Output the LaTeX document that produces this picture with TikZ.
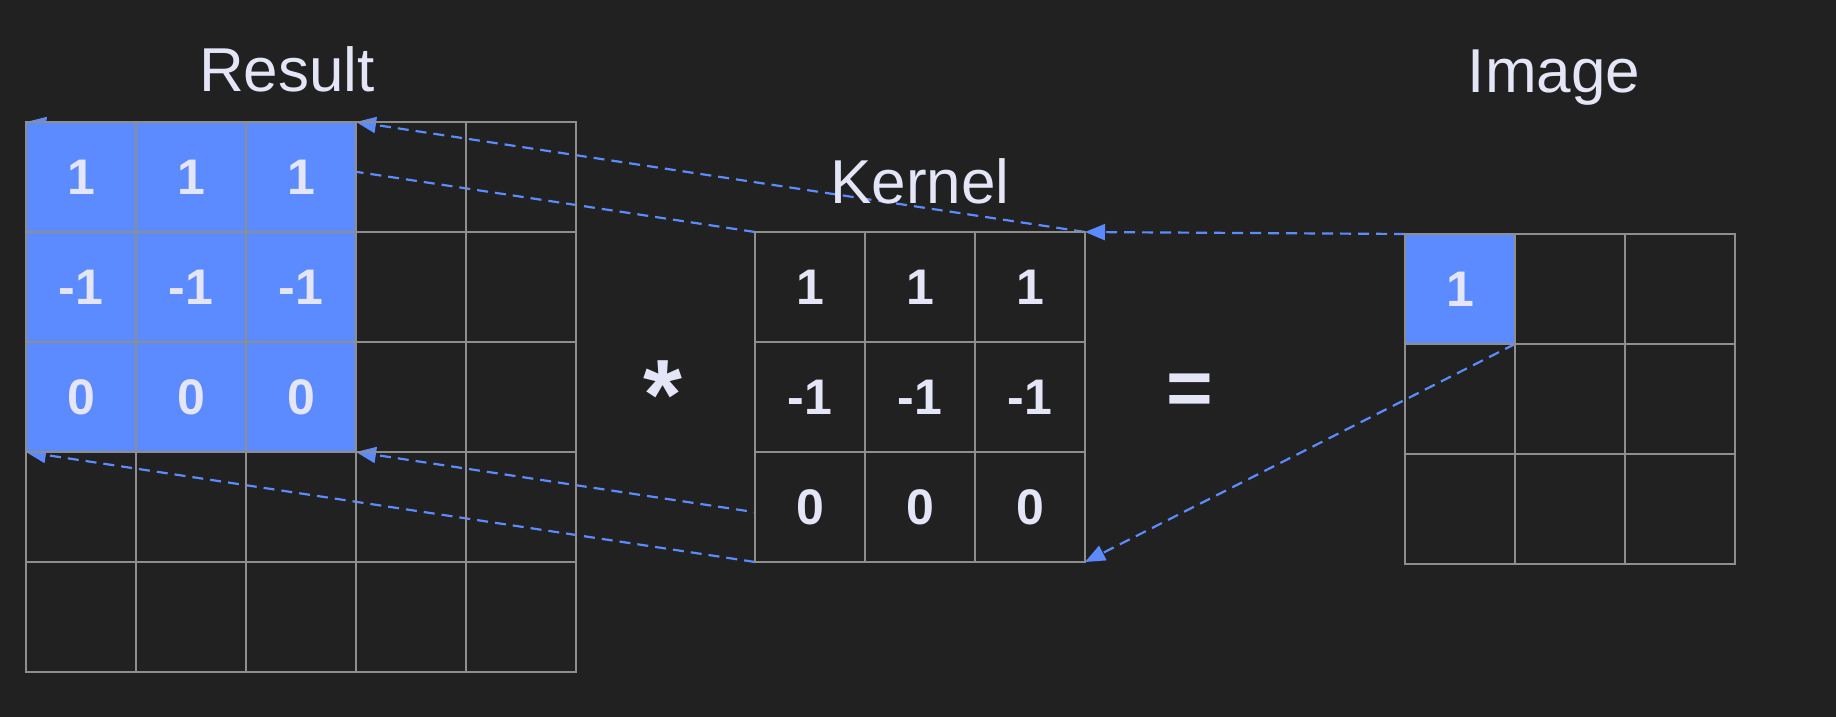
\documentclass[tikz,border=0pt]{standalone}
\usepackage{fontspec}
\setmainfont{Liberation Sans}
\usetikzlibrary{positioning, calc, arrows.meta}
\definecolor{bgdark}{HTML}{212121}
\definecolor{hotblue}{HTML}{5C8BFF}
\definecolor{gridgray}{HTML}{8E8E8E}
\definecolor{inkwhite}{HTML}{E4E5F6}
\pgfdeclarelayer{bg}
\pgfdeclarelayer{lines}
\pgfsetlayers{bg,lines,main}

\begin{document}
\begin{tikzpicture}[x=0.5pt, y=-0.5pt,
    cell/.style={draw=gridgray, line width=1pt, minimum size=55pt, inner sep=0pt, outer sep=0pt,
      text=inkwhite, font=\fontsize{25}{25}\selectfont\bfseries},
    hot/.style={cell, fill=hotblue},
    kcell/.style={cell, fill=bgdark},
    title/.style={text=inkwhite, font=\fontsize{31}{31}\selectfont, anchor=base},
    oper/.style={text=inkwhite, font=\fontsize{40}{40}\selectfont\bfseries},
    link/.style={draw=hotblue, line width=1.1pt, dash pattern=on 5.5pt off 3.5pt,
      -{Triangle[length=10pt,width=8pt]}}]
    \begin{pgfonlayer}{bg}
        \fill[bgdark] (0,0) rectangle (1836,717);
    \end{pgfonlayer}
    \useasboundingbox (0,0) rectangle (1836,717);

    % Result
    \node[title] (result) at (287,91) {Result};
    \foreach \r/\v in {1/1, 2/-1, 3/0}
        \foreach \c in {1,2,3}
            \node[hot] (R\r\c) at ({81+110*(\c-1)}, {177+110*(\r-1)}) {\v};
    \foreach \r in {1,...,5}
        \foreach \c in {4,5}
            \node[cell] (R\r\c) at ({81+110*(\c-1)}, {177+110*(\r-1)}) {};
    \foreach \r in {4,5}
        \foreach \c in {1,2,3}
            \node[cell] (R\r\c) at ({81+110*(\c-1)}, {177+110*(\r-1)}) {};

    \node[oper, font=\fontsize{50}{50}\selectfont\bfseries] (times) at (663,395) {*};

    % Kernel
    \node[title] (kernel) at (920,203) {Kernel};
    \foreach \r/\v in {1/1, 2/-1, 3/0}
        \foreach \c in {1,2,3}
            \node[kcell] (K\r\c) at ({810+110*(\c-1)}, {287+110*(\r-1)}) {\v};

    \node[oper] (equals) at (1190,395) {=};

    % Image
    \node[title] (image) at (1554,93) {Image};
    \node[hot] (I11) at (1460,289) {1};
    \foreach \r/\c in {1/2, 1/3, 2/1, 2/2, 2/3, 3/1, 3/2, 3/3}
        \node[cell] (I\r\c) at ({1460+110*(\c-1)}, {289+110*(\r-1)}) {};

    \begin{pgfonlayer}{lines}
        \draw[link] (I11.north west) -- (K13.north east);
        \draw[link] (K13.north east) -- (R13.north east);
        \draw[link] (K11.north west) -- (R11.north west);
        \draw[link] (K31.south west) -- (R31.south west);
        \draw[link] (K33.south east) -- (R33.south east);
        \draw[link] (I11.south east) -- (K33.south east);
    \end{pgfonlayer}
\end{tikzpicture}
\end{document}
